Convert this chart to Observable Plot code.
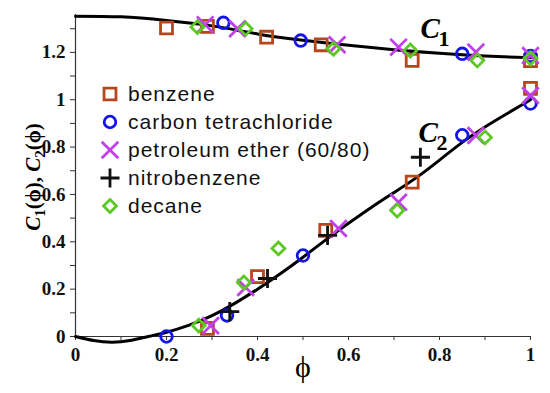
<!DOCTYPE html>
<html>
<head>
<meta charset="utf-8">
<script src="https://cdn.jsdelivr.net/npm/d3@7"></script>
<script src="https://cdn.jsdelivr.net/npm/@observablehq/plot@0.6"></script>
<style>
  html, body { margin: 0; padding: 0; background: #fff; }
  #wrap { position: relative; width: 550px; height: 393px; }
  #legend { position: absolute; left: 96px; top: 80px; font-family: "Liberation Sans", Arial, sans-serif; font-size: 21px; letter-spacing: 1px; color: #111; }
  .row { display: flex; align-items: center; height: 28px; }
  .row svg { width: 28px; height: 28px; margin-right: 4px; overflow: visible; }
</style>
</head>
<body>
<div id="wrap"></div>
<script>
// ---- Model curves ----
const phiC1Curve = [0, 0.1, 0.2, 0.3, 0.4, 0.5, 0.6, 0.7, 0.8, 0.9, 1];
const c1Curve    = [1.353, 1.35, 1.335, 1.312, 1.278, 1.251, 1.23, 1.211, 1.196, 1.185, 1.177];
const phiC2Curve = [0, 0.04, 0.08, 0.12, 0.16, 0.2, 0.25, 0.3, 0.35, 0.4, 0.45, 0.5, 0.55, 0.6, 0.65, 0.7, 0.75, 0.8, 0.85, 0.9, 0.95, 1];
const c2Curve    = [0, -0.017, -0.024, -0.017, 0, 0.018, 0.048, 0.088, 0.14, 0.2, 0.265, 0.335, 0.408, 0.478, 0.545, 0.608, 0.672, 0.745, 0.82, 0.885, 0.943, 1.0];

// ---- Experimental data ----
const benzeneC1Phi = [0.2, 0.29, 0.42, 0.54, 0.74, 1.0];
const benzeneC1    = [1.303, 1.31, 1.264, 1.232, 1.166, 1.165];
const benzeneC2Phi = [0.29, 0.4, 0.55, 0.74, 1.0];
const benzeneC2    = [0.034, 0.253, 0.448, 0.652, 1.048];

const carbonC1Phi = [0.325, 0.495, 0.85, 1.0];
const carbonC1    = [1.325, 1.25, 1.194, 1.185];
const carbonC2Phi = [0.2, 0.333, 0.5, 0.85, 1.0];
const carbonC2    = [0, 0.089, 0.342, 0.85, 0.984];

const petroC1Phi = [0.285, 0.356, 0.575, 0.71, 0.88, 1.0];
const petroC1    = [1.317, 1.30, 1.232, 1.222, 1.201, 1.187];
const petroC2Phi = [0.297, 0.374, 0.578, 0.71, 0.88, 1.0];
const petroC2    = [0.046, 0.207, 0.456, 0.567, 0.849, 1.018];

const nitroC2Phi = [0.339, 0.422, 0.554, 0.758];
const nitroC2    = [0.105, 0.245, 0.427, 0.757];

const decaneC1Phi = [0.268, 0.374, 0.567, 0.736, 0.883, 1.0];
const decaneC1    = [1.307, 1.30, 1.215, 1.208, 1.166, 1.175];
const decaneC2Phi = [0.271, 0.37, 0.446, 0.707, 0.90];
const decaneC2    = [0.046, 0.228, 0.372, 0.532, 0.841];

// ---- Series / legend ----
const seriesNames   = ["benzene", "carbon tetrachloride", "petroleum ether (60/80)", "nitrobenzene", "decane"];
const seriesSymbols = ["square2", "circle", "times", "plus", "diamond2"];
const seriesColors  = ["#b8461c", "#1414e6", "#c240ea", "#111111", "#5cc824"];
const seriesR       = [7.6, 5.8, 7.6, 6.2, 5.8];

// ---- Axis ticks ----
const xTicks = [0, 0.1, 0.2, 0.3, 0.4, 0.5, 0.6, 0.7, 0.8, 0.9, 1];
const xTickLabels = ["0", "", "0.2", "", "0.4", "", "0.6", "", "0.8", "", "1"];
const yTicks = [0, 0.1, 0.2, 0.3, 0.4, 0.5, 0.6, 0.7, 0.8, 0.9, 1, 1.1, 1.2, 1.3];
const yTickLabels = ["0", "", "0.2", "", "0.4", "", "0.6", "", "0.8", "", "1", "", "1.2", ""];

// ---- Curve labels ----
const curveLabelPhi = [0.758, 0.754];
const curveLabelVal = [1.259, 0.82];
const curveLabelSub = ["1", "2"];

const zip = (xs, ys) => xs.map((x, i) => ({phi: x, v: ys[i]}));
const pointSets = [
  [zip(benzeneC1Phi, benzeneC1), zip(benzeneC2Phi, benzeneC2)],
  [zip(carbonC1Phi, carbonC1), zip(carbonC2Phi, carbonC2)],
  [zip(petroC1Phi, petroC1), zip(petroC2Phi, petroC2)],
  [zip(nitroC2Phi, nitroC2)],
  [zip(decaneC1Phi, decaneC1), zip(decaneC2Phi, decaneC2)]
];

const serif = "'Liberation Serif', 'Times New Roman', serif";
const dotMarks = [];
pointSets.forEach((sets, i) => {
  sets.forEach(data => {
    dotMarks.push(Plot.dot(data, {
      x: "phi", y: "v", symbol: () => seriesSymbols[i], r: seriesR[i],
      stroke: seriesColors[i], strokeWidth: 2.8, fill: "none"
    }));
  });
});

const labels = curveLabelPhi.map((p, i) => ({phi: p, v: curveLabelVal[i], sub: curveLabelSub[i]}));

const svg = Plot.plot({
  width: 550, height: 393,
  marginLeft: 75, marginRight: 20, marginTop: 14, marginBottom: 57,
  x: {domain: [0, 1]},
  y: {domain: [0, 1.36]},
  symbol: {type: "identity"},
  style: {fontFamily: serif, background: "white", overflow: "visible"},
  marks: [
    Plot.axisX({ticks: xTicks, tickFormat: (d, i) => xTickLabels[i], tickSize: 4, tickPadding: 7,
      fontSize: 19, fontWeight: "bold", fontFamily: serif, label: null, stroke: "#333", fill: "#111"}),
    Plot.axisY({ticks: yTicks, tickFormat: (d, i) => yTickLabels[i], tickSize: 5, tickPadding: 5,
      fontSize: 19, fontWeight: "bold", fontFamily: serif, label: null, stroke: "#333", fill: "#111"}),
    Plot.ruleY([0], {stroke: "#333", strokeWidth: 1.2}),
    Plot.ruleX([0], {stroke: "#333", strokeWidth: 1.2}),
    Plot.line(zip(phiC1Curve, c1Curve), {x: "phi", y: "v", curve: "natural", stroke: "#000", strokeWidth: 3}),
    Plot.line(zip(phiC2Curve, c2Curve), {x: "phi", y: "v", curve: "natural", stroke: "#000", strokeWidth: 3}),
    ...dotMarks,
    Plot.text(labels, {x: "phi", y: "v", text: () => "C", textAnchor: "start", lineAnchor: "bottom",
      fontSize: 29, fontStyle: "italic", fontWeight: "bold", fontFamily: serif, fill: "#000"}),
    Plot.text(labels, {x: "phi", y: "v", text: "sub", textAnchor: "start", lineAnchor: "bottom", dx: 18, dy: 8,
      fontSize: 22, fontWeight: "bold", fontFamily: serif, fill: "#000"}),
    Plot.text(["ϕ"], {frameAnchor: "bottom", lineAnchor: "bottom", dy: 40, fontSize: 30, fontFamily: serif, fill: "#000"})
  ]
});

// y-axis title with italic C and subscripts
const yl = d3.select(svg).append("text")
  .attr("transform", "translate(40,177) rotate(-90)")
  .attr("text-anchor", "middle")
  .attr("font-family", serif).attr("font-weight", "bold").attr("font-size", 21).attr("fill", "#000");
yl.append("tspan").attr("font-style", "italic").text("C");
yl.append("tspan").attr("font-size", 15).attr("dy", 5).text("1");
yl.append("tspan").attr("dy", -5).text("(ϕ), ");
yl.append("tspan").attr("font-style", "italic").text("C");
yl.append("tspan").attr("font-size", 15).attr("dy", 5).text("2");
yl.append("tspan").attr("dy", -5).text("(ϕ)");

const wrap = document.getElementById("wrap");
wrap.appendChild(svg);

// legend
const symMap = {square2: d3.symbolSquare2, circle: d3.symbolCircle, times: d3.symbolTimes, plus: d3.symbolPlus, diamond2: d3.symbolDiamond2};
const legend = document.createElement("div");
legend.id = "legend";
seriesNames.forEach((name, i) => {
  const row = document.createElement("div");
  row.className = "row";
  const s = d3.create("svg").attr("viewBox", "-14 -14 28 28");
  s.append("path").attr("d", d3.symbol(symMap[seriesSymbols[i]], Math.PI * seriesR[i] * seriesR[i])())
    .attr("fill", "none").attr("stroke", seriesColors[i]).attr("stroke-width", 2.8);
  row.appendChild(s.node());
  const t = document.createElement("span");
  t.textContent = name;
  row.appendChild(t);
  legend.appendChild(row);
});
wrap.appendChild(legend);
</script>
</body>
</html>
